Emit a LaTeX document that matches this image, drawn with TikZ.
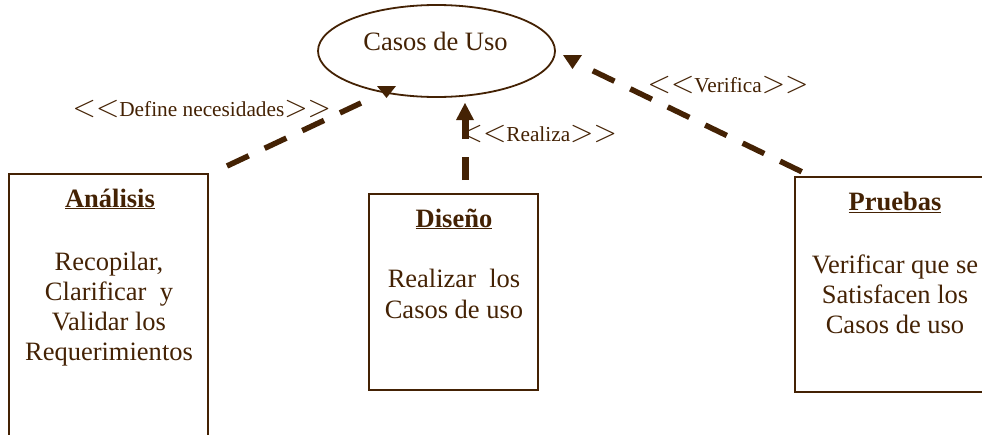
\documentclass[tikz,border=0pt]{standalone}
\usepackage{fontspec}
\setmainfont{Liberation Serif}
\usetikzlibrary{shapes.geometric}
\definecolor{br}{RGB}{68,34,4}
\newcommand\angsym[1]{\scalebox{3}{\normalsize$#1$}}
\begin{document}
\begin{tikzpicture}[x=1pt,y=-1pt,
  txt/.style={inner sep=0pt, anchor=base, text=br, font=\fontsize{26.5pt}{30pt}\selectfont},
  lbl/.style={inner sep=0pt, anchor=base west, text=br, font=\fontsize{21.3pt}{24pt}\selectfont},
  boxline/.style={draw=br, line width=1.7pt},
  conn/.style={draw=br, line width=5.5pt, dash pattern=on 24pt off 17.6pt},
  head/.style={fill=br}]
\useasboundingbox (0,0) rectangle (982,434);
\clip (0,0) rectangle (982,434);

% use case ellipse
\node[draw=br, line width=1.8pt, ellipse, minimum width=237pt, minimum height=92pt, inner sep=0pt] (uc) at (436.5,51) {};
\node[txt] (uctxt) at (435.5,50) {Casos de Uso};

% boxes
\draw[boxline] (9,174) rectangle (208,450);
\draw[boxline] (369,194) rectangle (538,390);
\draw[boxline] (795,177) rectangle (997,392);

% Analisis
\node[txt] (anaT) at (110,207) {\underline{\textbf{Análisis}}};
\node[txt] (ana1) at (109,270) {Recopilar,};
\node[txt] (ana2) at (109,300) {Clarificar\ \ y};
\node[txt] (ana3) at (109,330) {Validar los};
\node[txt] (ana4) at (109,360) {Requerimientos};

% Diseno
\node[txt] (disT) at (454,227) {\underline{\textbf{Diseño}}};
\node[txt] (dis1) at (454,287) {Realizar\ \ los};
\node[txt] (dis2) at (454,318) {Casos de uso};

% Pruebas
\node[txt] (prT) at (895,210) {\underline{\textbf{Pruebas}}};
\node[txt] (pr1) at (895,273) {Verificar que se};
\node[txt] (pr2) at (895,303) {Satisfacen los};
\node[txt] (pr3) at (895,333) {Casos de uso};

% connector end points
\coordinate (cA) at (227,166);
\coordinate (hA) at (361,103);
\coordinate (cD) at (465,180);
\coordinate (hD) at (465,116);
\coordinate (cP) at (801.7,171.7);
\coordinate (hP) at (592.7,70.7);

\draw[conn] (cA) -- (hA);
\draw[conn, line width=7pt, dash pattern=on 23pt off 18pt] (cD) -- (hD);
\draw[conn] (cP) -- (hP);

% arrow heads
\fill[head] (377,86) -- (396,86) -- (386.5,98) -- cycle;
\fill[head] (456,120) -- (474,120) -- (465,103) -- cycle;
\fill[head] (563,55) -- (582,55) -- (572.5,69) -- cycle;

% labels
\node[lbl] (lDef) at (72.5,116) {\angsym{<}\angsym{<}Define necesidades\angsym{>}\angsym{>}};
\node[lbl] (lRea) at (459.5,141) {\angsym{<}\angsym{<}Realiza\angsym{>}\angsym{>}};
\node[lbl] (lVer) at (647.5,92) {\angsym{<}\angsym{<}Verifica\angsym{>}\angsym{>}};
\end{tikzpicture}
\end{document}
